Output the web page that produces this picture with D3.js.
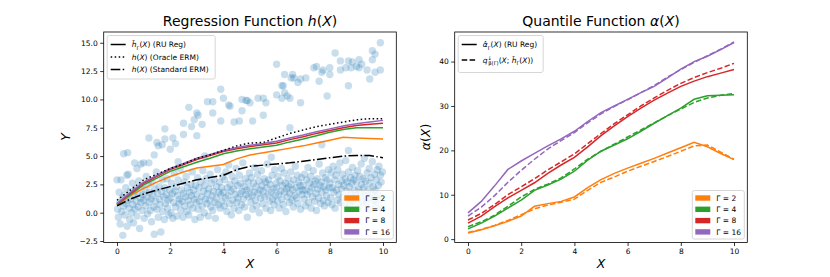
<!DOCTYPE html>
<html>
<head>
<meta charset="utf-8">
<script src="https://cdn.jsdelivr.net/npm/d3@7"></script>
<style>
  body { margin: 0; background: #fff; }
  svg { display: block; font-family: "DejaVu Sans", sans-serif; }
</style>
</head>
<body>
<div id="content"></div>
<script>
// ---- data ----
const xGrid = [0,0.5,1,1.5,2,2.5,3,3.5,4,4.5,5,5.5,6,6.5,7,7.5,8,8.5,9,9.5,10];
const gammas = [2, 4, 8, 16];
const gammaColors = ["#ff7f0e", "#2ca02c", "#d62728", "#9467bd"];

// left panel: regression curves
const hOracle   = [1.1,2.0,2.9,3.4,3.9,4.3,4.8,5.1,5.5,5.9,6.15,6.2,6.6,7.0,7.3,7.6,7.8,8.0,8.2,8.3,8.3];
const hStandard = [0.6,1.2,1.65,2.0,2.3,2.6,2.9,3.1,3.3,3.8,4.1,4.2,4.3,4.4,4.55,4.7,4.85,5.0,5.05,5.05,4.85];
const hRU2  = [0.7,1.5,2.15,2.7,3.2,3.6,3.95,4.1,4.25,4.75,5.1,5.3,5.5,5.7,5.9,6.15,6.4,6.65,6.6,6.55,6.5];
const hRU4  = [0.7,1.6,2.45,3.05,3.65,4.05,4.45,4.8,5.2,5.45,5.65,5.8,5.95,6.25,6.5,6.8,7.1,7.35,7.5,7.5,7.5];
const hRU8  = [0.75,1.7,2.6,3.2,3.8,4.25,4.7,5.05,5.4,5.65,5.85,6.0,6.15,6.45,6.7,7.0,7.25,7.5,7.7,7.8,7.9];
const hRU16 = [0.8,1.8,2.7,3.3,3.9,4.35,4.8,5.15,5.5,5.75,5.95,6.1,6.3,6.6,6.85,7.15,7.4,7.65,7.85,8.0,8.15];

// right panel: quantile curves (solid = RU Reg, dashed = q)
const aRU2  = [1.4,2.1,3.0,4.0,5.2,7.4,8.0,8.5,9.5,11.6,13.4,14.8,16.0,17.1,18.2,19.4,20.6,21.8,20.8,19.3,17.9];
const aRU4  = [2.3,3.6,5.2,7.0,8.8,11.0,12.2,13.5,15.3,17.8,19.8,21.2,22.6,24.3,26.1,27.8,29.5,31.5,32.3,32.4,32.5];
const aRU8  = [3.6,5.2,7.3,9.3,11.0,12.7,14.8,16.7,18.4,20.8,23.3,25.5,27.6,29.5,31.3,32.9,34.4,35.6,36.6,37.4,38.2];
const aRU16 = [5.9,8.5,12.0,15.7,17.6,19.3,21.0,22.6,24.3,26.5,28.5,30.0,31.5,33.0,34.4,36.3,38.3,40.0,41.2,42.7,44.3];
const q2  = [1.5,2.2,3.1,4.2,5.5,6.8,7.7,8.3,9.0,11.0,12.8,14.0,15.3,16.4,17.5,18.6,19.8,21.0,21.2,19.6,18.0];
const q4  = [2.8,3.9,5.4,7.4,9.5,11.2,12.4,13.8,15.8,18.0,19.8,21.4,23.0,24.6,26.2,27.8,29.3,30.8,31.8,32.4,32.8];
const q8  = [4.3,5.8,7.8,10.0,11.8,13.6,15.6,17.4,19.2,21.5,23.8,26.0,28.0,30.0,31.8,33.5,35.1,36.4,37.5,38.5,39.6];
const q16 = [5.2,7.2,9.8,12.8,15.5,18.0,20.3,22.2,24.0,26.2,28.2,29.9,31.4,33.0,34.6,36.5,38.2,39.8,41.3,42.8,44.4];

// observed samples (X, Y)
const samplesLow = [
[0.02,0.3],[0.05,-0.4],[0.08,1.8],[0.1,0.9],[0.12,-1.0],[0.15,2.9],[0.18,0.1],[0.2,1.3],[0.22,-2.0],[0.25,0.6],[0.28,1.6],[0.3,-0.2],[0.33,2.2],[0.35,0.8],[0.38,-1.2],[0.4,1.1],[0.42,3.4],[0.45,0.4],[0.48,-0.6],[0.5,1.9],[0.52,1.2],[0.55,0.0],[0.58,2.6],[0.6,0.7],[0.62,-0.9],[0.65,1.5],[0.68,0.3],[0.7,2.1],[0.72,1.0],[0.75,-0.3],[0.78,1.7],[0.8,0.5],[0.82,2.8],[0.85,-1.4],[0.88,1.3],[0.9,0.9],[0.92,2.3],[0.95,0.2],[0.98,1.6],
[1.0,1.1],[1.02,-0.5],[1.05,2.0],[1.08,0.6],[1.1,3.2],[1.12,1.4],[1.15,-0.1],[1.18,2.5],[1.2,0.9],[1.22,1.8],[1.25,0.2],[1.28,1.2],[1.3,-0.8],[1.32,2.7],[1.35,1.5],[1.38,0.5],[1.4,-1.9],[1.42,2.1],[1.45,1.0],[1.48,3.6],[1.5,0.3],[1.52,1.7],[1.55,-0.4],[1.58,2.3],[1.6,1.2],[1.62,0.7],[1.65,-1.7],[1.68,1.9],[1.7,2.9],[1.72,0.1],[1.75,1.4],[1.78,-0.6],[1.8,2.2],[1.82,0.8],[1.85,1.6],[1.88,3.0],[1.9,0.4],[1.92,1.1],[1.95,-0.2],[1.98,2.0],
[2.0,1.3],[2.03,0.0],[2.05,2.6],[2.08,1.7],[2.1,-0.5],[2.13,0.9],[2.15,3.5],[2.18,1.9],[2.2,0.5],[2.23,2.3],[2.25,-0.3],[2.28,1.5],[2.3,2.9],[2.33,0.8],[2.35,1.2],[2.38,3.9],[2.4,0.2],[2.43,2.0],[2.45,1.0],[2.48,-0.4],[2.5,1.7],[2.53,2.7],[2.55,0.6],[2.58,1.4],[2.6,3.2],[2.63,0.1],[2.65,2.2],[2.68,1.1],[2.7,-0.2],[2.73,1.8],[2.75,0.7],[2.78,2.5],[2.8,1.5],[2.83,3.6],[2.85,0.4],[2.88,2.0],[2.9,1.2],[2.93,-0.6],[2.95,2.4],[2.98,0.9],
[3.0,1.6],[3.03,3.1],[3.05,0.3],[3.08,2.2],[3.1,1.0],[3.13,-0.4],[3.15,2.7],[3.18,1.4],[3.2,0.6],[3.23,3.7],[3.25,1.9],[3.28,0.0],[3.3,2.4],[3.33,1.2],[3.35,3.0],[3.38,0.8],[3.4,1.7],[3.43,-0.3],[3.45,2.1],[3.48,1.1],[3.5,3.4],[3.53,0.5],[3.55,2.6],[3.58,1.5],[3.6,0.2],[3.63,1.9],[3.65,2.9],[3.68,0.9],[3.7,-0.5],[3.73,1.3],[3.75,2.3],[3.78,3.8],[3.8,0.7],[3.83,1.8],[3.85,2.7],[3.88,0.4],[3.9,1.6],[3.93,2.2],[3.95,1.0],[3.98,3.2],
[4.0,1.8],[4.03,0.6],[4.05,2.9],[4.08,1.3],[4.1,3.6],[4.13,0.1],[4.15,2.2],[4.18,1.5],[4.2,4.2],[4.23,0.8],[4.25,2.5],[4.28,1.9],[4.3,-0.2],[4.33,3.2],[4.35,1.1],[4.38,2.1],[4.4,0.4],[4.43,2.8],[4.45,1.6],[4.48,3.9],[4.5,0.9],[4.53,2.4],[4.55,1.3],[4.58,0.2],[4.6,3.3],[4.63,1.7],[4.65,2.6],[4.68,0.7],[4.7,1.9],[4.73,4.4],[4.75,1.2],[4.78,2.3],[4.8,0.5],[4.83,3.0],[4.85,1.6],[4.88,2.0],[4.9,-0.4],[4.93,2.7],[4.95,1.4],[4.98,3.5],
[5.0,2.1],[5.03,0.9],[5.05,3.1],[5.08,1.5],[5.1,0.3],[5.13,2.6],[5.15,1.8],[5.18,4.0],[5.2,1.1],[5.23,2.3],[5.25,0.6],[5.28,3.4],[5.3,1.7],[5.33,2.8],[5.35,0.0],[5.38,2.0],[5.4,1.3],[5.43,3.7],[5.45,2.4],[5.48,0.8],[5.5,1.9],[5.53,3.0],[5.55,1.4],[5.58,2.7],[5.6,0.4],[5.63,2.2],[5.65,4.3],[5.68,1.6],[5.7,2.9],[5.73,1.0],[5.75,2.5],[5.78,0.2],[5.8,1.8],[5.83,3.3],[5.85,1.2],[5.88,2.1],[5.9,0.7],[5.93,3.8],[5.95,1.5],[5.98,2.6],
[6.0,2.2],[6.03,1.0],[6.05,3.2],[6.08,1.6],[6.1,0.4],[6.13,2.8],[6.15,1.9],[6.18,3.9],[6.2,1.2],[6.23,2.4],[6.25,0.7],[6.28,3.5],[6.3,1.8],[6.33,2.6],[6.35,0.1],[6.38,2.1],[6.4,1.4],[6.43,3.0],[6.45,2.3],[6.48,0.9],[6.5,1.7],[6.53,3.6],[6.55,2.5],[6.58,1.1],[6.6,2.0],[6.63,0.5],[6.65,2.9],[6.68,1.5],[6.7,4.1],[6.73,2.2],[6.75,1.3],[6.78,3.3],[6.8,0.8],[6.83,2.7],[6.85,1.9],[6.88,2.4],[6.9,0.3],[6.93,3.1],[6.95,1.6],[6.98,2.0],
[7.0,2.4],[7.03,1.2],[7.05,3.4],[7.08,0.6],[7.1,2.0],[7.13,2.9],[7.15,1.6],[7.18,4.0],[7.2,0.9],[7.23,2.6],[7.25,1.9],[7.28,3.2],[7.3,0.4],[7.33,2.2],[7.35,1.4],[7.38,3.7],[7.4,2.5],[7.43,1.0],[7.45,2.8],[7.48,1.7],[7.5,0.2],[7.53,3.0],[7.55,2.1],[7.58,1.3],[7.6,4.3],[7.63,2.4],[7.65,0.8],[7.68,2.7],[7.7,1.8],[7.73,3.5],[7.75,1.1],[7.78,2.3],[7.8,0.6],[7.83,3.1],[7.85,2.0],[7.88,1.5],[7.9,2.9],[7.93,0.9],[7.95,3.8],[7.98,2.2],
[8.0,2.6],[8.03,1.3],[8.05,3.5],[8.08,0.7],[8.1,2.2],[8.13,4.1],[8.15,1.8],[8.18,2.9],[8.2,0.4],[8.23,3.3],[8.25,2.0],[8.28,1.1],[8.3,3.8],[8.33,2.5],[8.35,1.6],[8.38,4.4],[8.4,0.9],[8.43,2.8],[8.45,2.1],[8.48,3.4],[8.5,1.4],[8.53,2.4],[8.55,0.6],[8.58,3.0],[8.6,4.6],[8.63,1.9],[8.65,2.7],[8.68,1.2],[8.7,3.6],[8.73,2.3],[8.75,0.8],[8.78,3.1],[8.8,1.7],[8.83,2.6],[8.85,4.0],[8.88,1.0],[8.9,2.9],[8.93,2.0],[8.95,3.3],[8.98,1.5],
[9.0,2.7],[9.03,1.2],[9.05,3.7],[9.08,2.1],[9.1,0.5],[9.13,3.2],[9.15,1.8],[9.18,4.3],[9.2,2.5],[9.23,1.0],[9.25,3.0],[9.28,2.2],[9.3,4.8],[9.33,1.5],[9.35,2.8],[9.38,0.8],[9.4,3.5],[9.43,2.0],[9.45,1.3],[9.48,3.9],[9.5,2.6],[9.53,0.3],[9.55,3.1],[9.58,1.7],[9.6,4.5],[9.63,2.3],[9.65,1.1],[9.68,3.4],[9.7,2.0],[9.73,0.7],[9.75,2.9],[9.78,3.8],[9.8,1.6],[9.83,2.4],[9.85,4.1],[9.88,1.2],[9.9,3.3],[9.93,2.7],[9.95,0.4],[9.98,3.6]
];
const samplesHigh = [
[0.0,2.9],[0.25,5.2],[0.4,5.3],[0.37,3.3],[0.66,4.4],[0.75,3.9],[0.9,4.3],[1.0,4.4],[1.2,4.4],[1.2,6.6],[1.5,6.2],[1.4,5.1],[1.55,5.9],[1.7,6.0],[1.8,6.5],[1.8,7.4],[2.1,6.6],[2.2,6.1],[2.0,5.6],[2.5,6.9],[2.5,7.9],[2.7,9.3],[2.8,7.6],[2.9,8.2],[3.0,8.8],[3.05,8.6],[3.0,6.8],[3.2,7.8],[3.4,9.8],[3.6,9.8],[3.6,8.8],[3.9,8.1],[3.9,10.9],[4.0,10.1],[4.2,9.5],[4.25,9.4],[4.4,8.0],[4.6,8.1],[4.7,10.0],[4.7,9.0],[4.85,9.9],[4.9,9.9],[5.0,9.7],[5.3,10.1],[5.5,10.1],[5.5,8.6],[5.6,9.7],[5.1,8.1],[6.0,13.1],[6.0,10.4],[6.2,10.1],[6.3,10.6],[6.4,10.3],[6.5,10.1],[6.2,11.2],[6.25,11.2],[6.3,12.2],[6.55,11.9],[6.6,12.2],[6.65,11.9],[6.8,11.5],[6.9,9.7],[6.9,11.8],[7.1,11.9],[7.4,12.8],[7.5,12.9],[7.6,11.6],[7.7,12.4],[7.75,12.6],[7.9,10.3],[8.0,12.8],[8.0,12.2],[8.2,14.1],[8.4,13.4],[8.4,12.6],[8.6,12.8],[8.7,13.4],[8.7,11.2],[8.8,12.8],[8.85,13.3],[9.0,12.9],[9.1,13.5],[9.1,12.8],[9.2,13.1],[9.4,12.6],[9.5,11.8],[9.6,13.5],[9.6,14.3],[9.7,14.0],[9.9,15.0],[9.9,12.6],[9.7,12.4],[5.8,4.9],[3.3,5.0],[2.3,4.5],[6.5,7.5],[7.7,6.0],[8.7,5.5]
];

const xTicks = [0, 2, 4, 6, 8, 10];
const yTicksLeft = [-2.5, 0, 2.5, 5, 7.5, 10, 12.5, 15];
const yTicksRight = [0, 10, 20, 30, 40];

// ---- drawing ----
const W = 830, H = 277;
const svg = d3.select("#content").append("svg").attr("width", W).attr("height", H);
svg.append("rect").attr("width", W).attr("height", H).attr("fill", "white");

const DASH = { solid: null, dotted: "1.5,2.5", dashdot: "9.6,2.4,1.5,2.4", dashed: "5.5,2.4" };

// write a label made of segments: {t, i (italic), s: "sub"|"sup", dx}
function richText(g, x, y, segs, size, anchor) {
  const t = g.append("text").attr("x", x).attr("y", y).attr("font-size", size)
    .attr("fill", "#000").attr("text-anchor", anchor || "start");
  let shift = 0;
  segs.forEach(s => {
    const target = s.s === "sub" ? size * 0.3 : s.s === "sup" ? -size * 0.38 : 0;
    const ts = t.append("tspan").text(s.t).attr("dy", target - shift);
    shift = target;
    if (s.dx) ts.attr("dx", s.dx);
    if (s.i) ts.attr("font-style", "italic");
    if (s.s) ts.attr("font-size", size * 0.7);
  });
  return t;
}

function panel(opt) {
  const x = d3.scaleLinear().domain([-0.5, 10.5]).range([opt.left, opt.right]);
  const y = d3.scaleLinear().domain(opt.yDomain).range([242.5, 32]);
  const g = svg.append("g");

  if (opt.points) {
    g.append("g").selectAll("circle").data(opt.points).join("circle")
      .attr("cx", d => x(d[0])).attr("cy", d => y(d[1])).attr("r", 3.7)
      .attr("fill", "#1f77b4").attr("fill-opacity", 0.24);
  }

  const line = d3.line().x((d, i) => x(xGrid[i])).y(d => y(d));
  opt.lines.forEach(l => {
    g.append("path").attr("d", line(l.v)).attr("fill", "none")
      .attr("stroke", l.c).attr("stroke-width", 1.5)
      .attr("stroke-dasharray", DASH[l.dash]);
  });

  // axes
  const fmt = opt.yFmt;
  const ax = g.append("g").attr("transform", "translate(0,242.5)")
    .call(d3.axisBottom(x).tickValues(xTicks).tickSize(3.5).tickPadding(2.5).tickFormat(d3.format("d")));
  const ay = g.append("g").attr("transform", `translate(${opt.left},0)`)
    .call(d3.axisLeft(y).tickValues(opt.yTicks).tickSize(3.5).tickPadding(2.5).tickFormat(fmt));
  [ax, ay].forEach(a => {
    a.select(".domain").remove();
    a.selectAll("line").attr("stroke", "#000").attr("stroke-width", 0.8);
    a.selectAll("text").attr("font-size", 7.5).attr("font-family", "DejaVu Sans").attr("fill", "#000");
  });
  g.append("rect").attr("x", opt.left).attr("y", 32).attr("width", opt.right - opt.left)
    .attr("height", 210.5).attr("fill", "none").attr("stroke", "#000").attr("stroke-width", 0.8);

  // titles and labels
  const cx = (opt.left + opt.right) / 2;
  richText(svg, cx, 26, opt.title, 14, "middle");
  richText(svg, cx, 268, [{ t: "X", i: true }], 12.5, "middle");
  const yl = svg.append("g").attr("transform", `translate(${opt.left - opt.yLabelOff},137) rotate(-90)`);
  richText(yl, 0, 0, opt.yLabel, 12.5, "middle");

  // line legend (top-left)
  const lg = svg.append("g");
  const L = opt.lineLegend;
  lg.append("rect").attr("x", opt.left + 3.5).attr("y", 35.5).attr("width", L.w)
    .attr("height", L.items.length * L.step + 6).attr("rx", 2)
    .attr("fill", "white").attr("fill-opacity", 0.8).attr("stroke", "#ccc").attr("stroke-width", 0.8);
  L.items.forEach((it, i) => {
    const yy = 44.5 + i * L.step;
    lg.append("line").attr("x1", opt.left + 7).attr("x2", opt.left + 22).attr("y1", yy).attr("y2", yy)
      .attr("stroke", "#000").attr("stroke-width", 1.5).attr("stroke-dasharray", DASH[it.dash]);
    richText(lg, opt.left + 28, yy + 2.8, it.label, 7.5);
  });

  // Gamma legend (bottom-right)
  const pg = svg.append("g");
  const bx = opt.right - 55, by = 190.5;
  pg.append("rect").attr("x", bx).attr("y", by).attr("width", 52).attr("height", 48.5).attr("rx", 2)
    .attr("fill", "white").attr("fill-opacity", 0.8).attr("stroke", "#ccc").attr("stroke-width", 0.8);
  gammas.forEach((gm, i) => {
    const yy = by + 7.5 + i * 11.3;
    pg.append("rect").attr("x", bx + 3).attr("y", yy - 2.7).attr("width", 15).attr("height", 5.4)
      .attr("fill", gammaColors[i]);
    pg.append("text").attr("x", bx + 24).attr("y", yy + 2.7).attr("font-size", 7.5)
      .text(`Γ = ${gm}`);
  });
}

const sub = t => ({ t, s: "sub" });

panel({
  left: 103.7, right: 396.3, yLabelOff: 34,
  yDomain: [-2.63, 15.95], yTicks: yTicksLeft, yFmt: d => d3.format(".1f")(d).replace("-", "−"),
  points: samplesLow.concat(samplesHigh),
  lines: [
    { v: hRU2, c: gammaColors[0] }, { v: hRU4, c: gammaColors[1] },
    { v: hRU8, c: gammaColors[2] }, { v: hRU16, c: gammaColors[3] },
    { v: hOracle, c: "#000", dash: "dotted" }, { v: hStandard, c: "#000", dash: "dashdot" }
  ],
  title: [{ t: "Regression Function " }, { t: "h", i: true }, { t: "(" }, { t: "X", i: true }, { t: ")" }],
  yLabel: [{ t: "Y", i: true }],
  lineLegend: { w: 108, step: 12.5, items: [
    { dash: "solid", label: [{ t: "ĥ", i: true }, sub("Γ"), { t: "(" }, { t: "X", i: true }, { t: ") (RU Reg)" }] },
    { dash: "dotted", label: [{ t: "h", i: true }, { t: "(" }, { t: "X", i: true }, { t: ") (Oracle ERM)" }] },
    { dash: "dashdot", label: [{ t: "h", i: true }, { t: "(" }, { t: "X", i: true }, { t: ") (Standard ERM)" }] }
  ] }
});

panel({
  left: 454.7, right: 747.3, yLabelOff: 25,
  yDomain: [-0.76, 46.66], yTicks: yTicksRight, yFmt: d3.format("d"),
  lines: [
    { v: q2, c: gammaColors[0], dash: "dashed" }, { v: q4, c: gammaColors[1], dash: "dashed" },
    { v: q8, c: gammaColors[2], dash: "dashed" }, { v: q16, c: gammaColors[3], dash: "dashed" },
    { v: aRU2, c: gammaColors[0] }, { v: aRU4, c: gammaColors[1] },
    { v: aRU8, c: gammaColors[2] }, { v: aRU16, c: gammaColors[3] }
  ],
  title: [{ t: "Quantile Function " }, { t: "α", i: true }, { t: "(" }, { t: "X", i: true }, { t: ")" }],
  yLabel: [{ t: "α", i: true }, { t: "(" }, { t: "X", i: true }, { t: ")" }],
  lineLegend: { w: 85, step: 15.5, items: [
    { dash: "solid", label: [{ t: "α̂", i: true }, sub("Γ"), { t: "(" }, { t: "X", i: true }, { t: ") (RU Reg)" }] },
    { dash: "dashed", label: [{ t: "q", i: true }, { t: "↓", s: "sup" }, { t: "β(Γ)", s: "sub", dx: -3.6 }, { t: "(" }, { t: "X", i: true }, { t: "; " }, { t: "ĥ", i: true }, sub("Γ"), { t: "(" }, { t: "X", i: true }, { t: "))" }] }
  ] }
});
</script>
</body>
</html>
